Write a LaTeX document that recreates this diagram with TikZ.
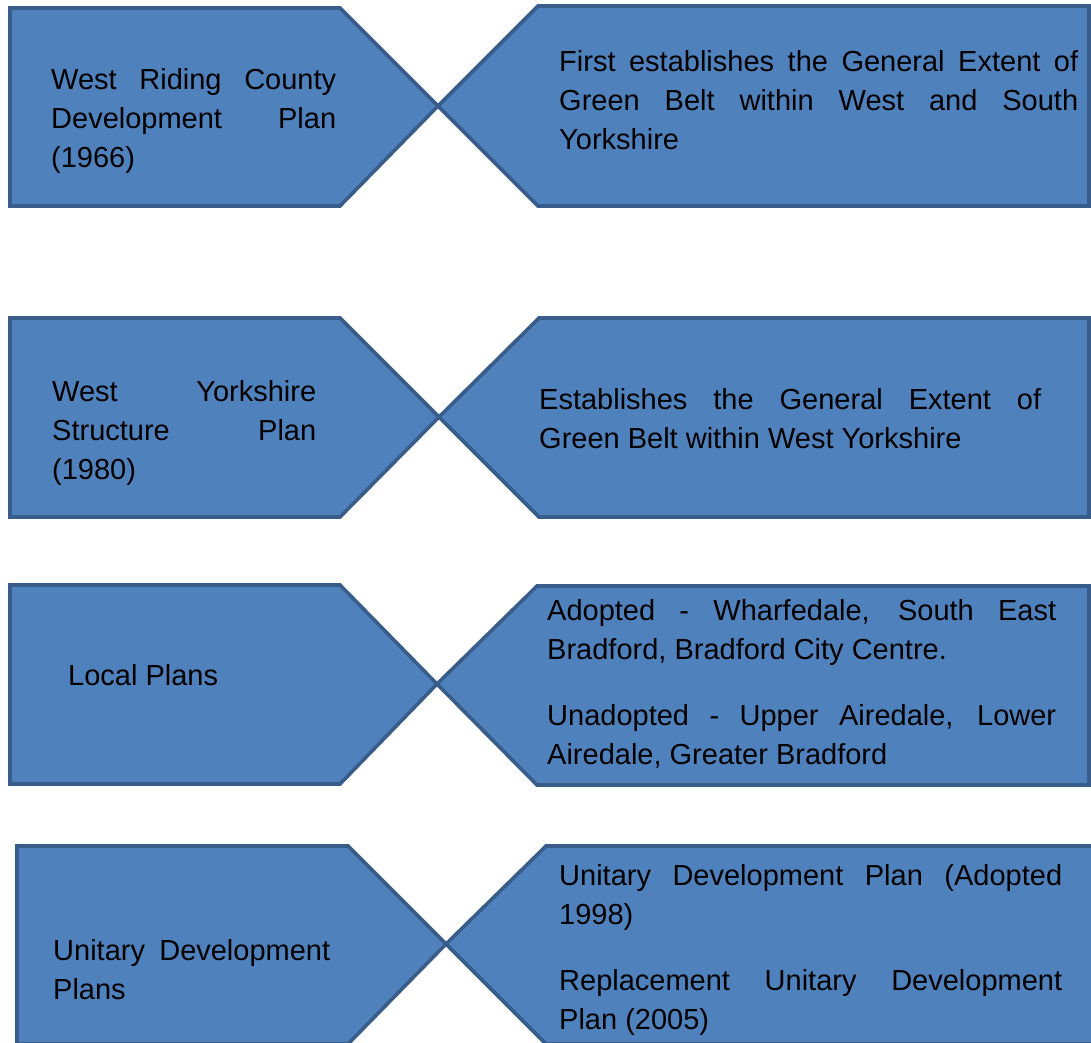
\documentclass[tikz,border=0pt]{standalone}
\usepackage{fontspec}
\setmainfont{Liberation Sans}
\definecolor{boxfill}{HTML}{4F81BD}
\definecolor{boxline}{HTML}{385D8A}
\tikzset{
  panel/.style={fill=boxfill, draw=boxline, line width=3.6pt, line join=miter},
  txt/.style={inner sep=0pt, anchor=base west, text=black,
              font=\fontsize{29}{39}\selectfont},
}
% a line stretched to the full column width (justified)
\newcommand{\jline}[2]{\makebox[#1pt][s]{#2}}
% a text column whose reference point is the first baseline
\newcommand{\col}[2]{\parbox[t]{#1pt}{\fontsize{29}{39}\selectfont #2}}

\begin{document}
\begin{tikzpicture}[x=1pt, y=-1pt]
  \useasboundingbox (0,0) rectangle (1091,1042);
  \clip (0,0) rectangle (1091,1042);

  % row 1
  \draw[panel] (10,8) -- (340,8) -- (438,106) -- (340,206) -- (10,206) -- cycle;
  \draw[panel] (538,6) -- (1089,6) -- (1089,206) -- (538,206) -- (438,106) -- cycle;
  % row 2
  \draw[panel] (10,318) -- (340,318) -- (439,417) -- (340,517) -- (10,517) -- cycle;
  \draw[panel] (539,318) -- (1089,318) -- (1089,517) -- (539,517) -- (439,417) -- cycle;
  % row 3
  \draw[panel] (10,585) -- (340,585) -- (437,684) -- (340,784) -- (10,784) -- cycle;
  \draw[panel] (537,586) -- (1089,586) -- (1089,785) -- (537,785) -- (437,684) -- cycle;
  % row 4 (runs past the lower edge)
  \draw[panel] (17,846) -- (348,846) -- (446,944) -- (348,1044) -- (17,1044) -- cycle;
  \draw[panel] (546,846) -- (1100,846) -- (1100,1044) -- (546,1044) -- (446,944) -- cycle;

  % texts
  \node[txt] (wrcdp) at (51,89) {\col{285}{\jline{285}{West Riding County}\\
    \jline{285}{Development Plan}\\ (1966)}};
  \node[txt] (first) at (559,71) {\col{519}{\jline{519}{First establishes the General Extent of}\\
    \jline{519}{Green Belt within West and South}\\ Yorkshire}};

  \node[txt] (wysp) at (52,401) {\col{264}{\jline{264}{West Yorkshire}\\
    \jline{264}{Structure Plan}\\ (1980)}};
  \node[txt] (estab) at (539,409) {\col{502}{\jline{502}{Establishes the General Extent of}\\
    Green Belt within West Yorkshire}};

  \node[txt] (local) at (68,685) {Local Plans};
  \node[txt] (adopt) at (547,620) {\col{509}{\jline{509}{Adopted - Wharfedale, South East}\\
    Bradford, Bradford City Centre.\\[27pt]
    \jline{509}{Unadopted - Upper Airedale, Lower}\\
    Airedale, Greater Bradford}};

  \node[txt] (udp) at (53,960) {\col{277}{\jline{277}{Unitary Development}\\ Plans}};
  \node[txt] (udpr) at (559,885) {\col{503}{\jline{503}{Unitary Development Plan (Adopted}\\
    1998)\\[27pt]
    \jline{503}{Replacement Unitary Development}\\
    Plan (2005)}};
\end{tikzpicture}
\end{document}
